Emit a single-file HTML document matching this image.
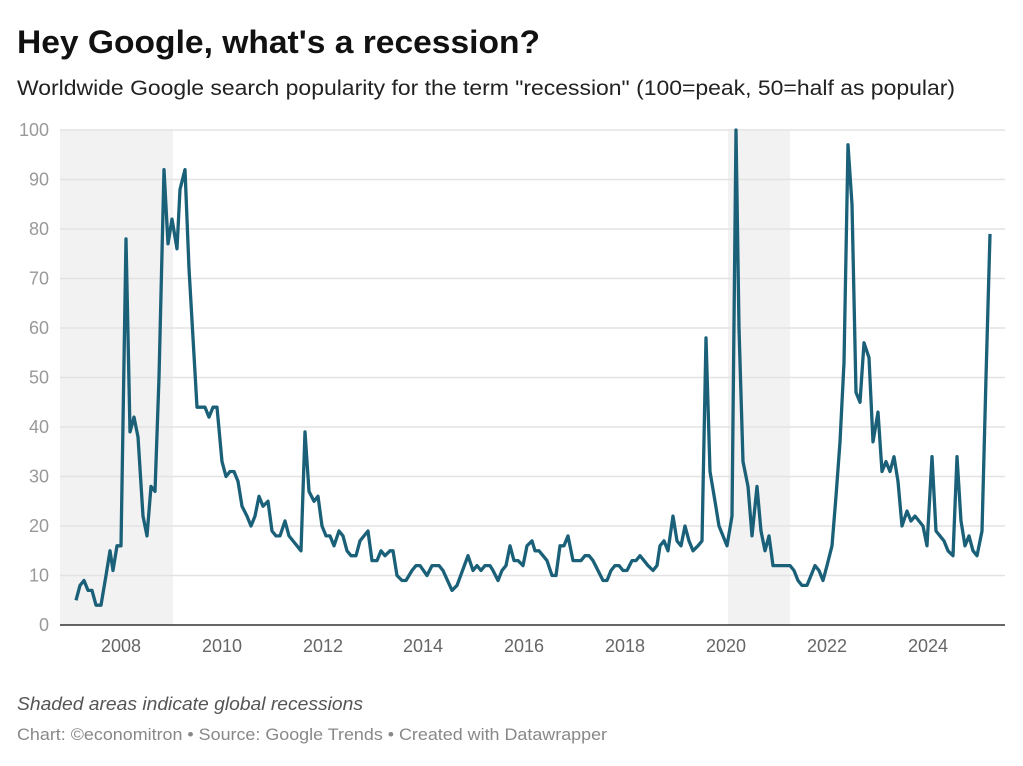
<!DOCTYPE html>
<html><head><meta charset="utf-8"><style>
body{margin:0;background:#fff;width:1023px;height:761px;overflow:hidden;font-family:"Liberation Sans",sans-serif}
</style></head><body>
<svg width="1023" height="761" xmlns="http://www.w3.org/2000/svg" font-family="Liberation Sans, sans-serif">
<text x="17" y="53" font-size="32" font-weight="bold" fill="#111" textLength="523" lengthAdjust="spacingAndGlyphs">Hey Google, what's a recession?</text>
<text x="17" y="95" font-size="21" fill="#222" textLength="938" lengthAdjust="spacingAndGlyphs">Worldwide Google search popularity for the term "recession" (100=peak, 50=half as popular)</text>
<rect x="60" y="130" width="113" height="495" fill="#f2f2f2"/>
<rect x="728" y="130" width="62" height="495" fill="#f2f2f2"/>
<g id="grid" stroke="#e3e3e3" stroke-width="1.5"></g>
<g id="yl" font-size="18" fill="#999" text-anchor="end"></g>
<line x1="60" x2="1005" y1="625" y2="625" stroke="#333" stroke-width="1.5"/>
<g font-size="18" fill="#666" text-anchor="middle">
<text x="121" y="652">2008</text><text x="222" y="652">2010</text><text x="323" y="652">2012</text><text x="423" y="652">2014</text><text x="524" y="652">2016</text><text x="625" y="652">2018</text><text x="726" y="652">2020</text><text x="827" y="652">2022</text><text x="928" y="652">2024</text>
</g>
<path id="ln" fill="none" stroke="#1a6078" stroke-width="3.3" stroke-linejoin="round"/>
<text x="17" y="710" font-size="18" font-style="italic" fill="#555" textLength="346" lengthAdjust="spacingAndGlyphs">Shaded areas indicate global recessions</text>
<text x="17" y="740" font-size="17" fill="#888" textLength="590" lengthAdjust="spacingAndGlyphs">Chart: ©economitron • Source: Google Trends • Created with Datawrapper</text>
</svg>
<script>
var ns="http://www.w3.org/2000/svg",g=document.getElementById("grid"),yl=document.getElementById("yl");
for(var v=0;v<=100;v+=10){var y=625-v*4.95;if(v>0){var l=document.createElementNS(ns,"line");l.setAttribute("x1",60);l.setAttribute("x2",1005);l.setAttribute("y1",y);l.setAttribute("y2",y);g.appendChild(l);}
var t=document.createElementNS(ns,"text");t.setAttribute("x",49);t.setAttribute("y",y+6);t.textContent=v;yl.appendChild(t);}
var d=[76,5,80,8,84,9,88,7,92,7,96,4,101,4,106,10,110,15,113,11,117,16,121,16,126,78,130,39,134,42,138,38,143,22,147,18,151,28,155,27,159,50,164,92,168,77,172,82,177,76,180,88,185,92,189,72,193,58,197,44,201,44,205,44,209,42,213,44,217,44,222,33,226,30,230,31,234,31,238,29,242,24,247,22,251,20,255,22,259,26,263,24,268,25,272,19,276,18,280,18,285,21,289,18,293,17,297,16,301,15,305,39,309,27,314,25,318,26,322,20,326,18,330,18,334,16,339,19,343,18,347,15,351,14,356,14,360,17,364,18,368,19,372,13,377,13,381,15,385,14,390,15,393,15,397,10,402,9,406,9,412,11,416,12,420,12,427,10,432,12,439,12,443,11,452,7,457,8,468,14,473,11,477,12,481,11,485,12,490,12,493,11,498,9,502,11,506,12,510,16,514,13,518,13,523,12,527,16,532,17,535,15,539,15,543,14,547,13,552,10,556,10,560,16,564,16,568,18,573,13,577,13,581,13,585,14,589,14,593,13,598,11,603,9,607,9,611,11,615,12,619,12,623,11,627,11,632,13,636,13,640,14,644,13,648,12,653,11,657,12,660,16,664,17,668,15,673,22,677,17,681,16,685,20,689,17,693,15,698,16,702,17,706,58,710,31,715,25,719,20,723,18,727,16,732,22,736,100,739,60,743,33,748,28,752,18,757,28,761,19,765,15,769,18,773,12,777,12,782,12,786,12,790,12,794,11,798,9,802,8,807,8,811,10,815,12,819,11,823,9,827,12,832,16,836,26,840,37,844,53,848,97,852,85,856,47,860,45,864,57,869,54,873,37,878,43,882,31,886,33,890,31,894,34,898,29,902,20,907,23,911,21,915,22,919,21,923,20,927,16,932,34,936,19,940,18,944,17,948,15,953,14,957,34,961,21,965,16,969,18,973,15,977,14,982,19,986,50,990,79];
var p="";for(var i=0;i<d.length;i+=2)p+=(i?"L":"M")+d[i]+","+(625-d[i+1]*4.95).toFixed(1);
document.getElementById("ln").setAttribute("d",p);
</script>
</body></html>
